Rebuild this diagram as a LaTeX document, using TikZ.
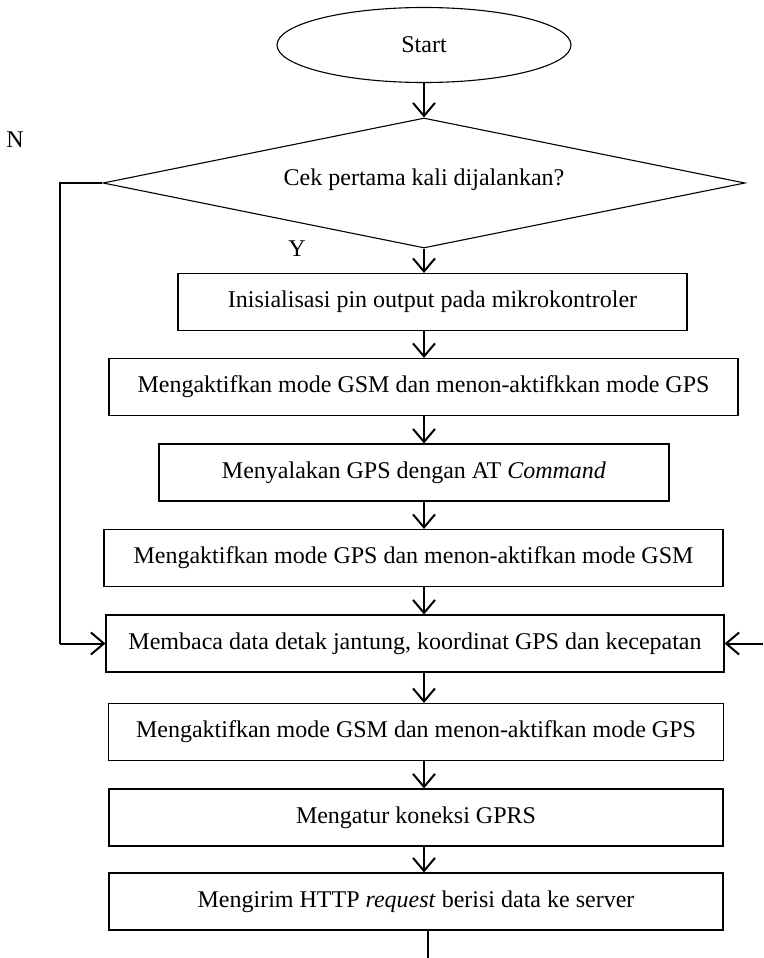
\documentclass[tikz,border=0pt]{standalone}
\usepackage{fontspec}
\setmainfont{Liberation Serif}
\usetikzlibrary{shapes.geometric,arrows.meta}
\begin{document}
\begin{tikzpicture}[x=1pt,y=-1pt,
  every node/.style={font=\fontsize{24}{28}\selectfont, inner sep=0pt},
  stepbox/.style={draw, line width=1.1pt, rectangle, minimum height=57pt},
  arr/.style={line width=2pt, -{Straight Barb[length=13pt,width=22pt,line width=2pt]}},
  link/.style={line width=1.4pt}]
\useasboundingbox (0,0) rectangle (763,958);

% terminal and decision
\node[draw, line width=1.1pt, ellipse, minimum width=294pt, minimum height=75pt] (st) at (424,45) {Start};
\node[draw, line width=1.1pt, diamond, minimum width=642pt, minimum height=130pt] (dec) at (424,183) {};
\node (dectxt) at (424,180) {Cek pertama kali dijalankan?};
\node (lblN) at (15,140) {N};
\node (lblY) at (297,249) {Y};

% process steps
\node[stepbox, minimum width=509pt] (b1) at (432.5,302) {Inisialisasi pin output pada mikrokontroler};
\node[stepbox, minimum width=629pt] (b2) at (423.5,387) {Mengaktifkan mode GSM dan menon-aktifkkan mode GPS};
\node[stepbox, minimum width=510pt] (b3) at (414,472.5) {Menyalakan GPS dengan AT \textit{Command}};
\node[stepbox, minimum width=619pt] (b4) at (413.5,558) {Mengaktifkan mode GPS dan menon-aktifkan mode GSM};
\node[stepbox, minimum width=618pt] (b5) at (415,643.5) {Membaca data detak jantung, koordinat GPS dan kecepatan};
\node[stepbox, minimum width=615pt] (b6) at (416,732) {Mengaktifkan mode GSM dan menon-aktifkan mode GPS};
\node[stepbox, minimum width=614pt] (b7) at (416,817.5) {Mengatur koneksi GPRS};
\node[stepbox, minimum width=614pt] (b8) at (416,901.5) {Mengirim HTTP \textit{request} berisi data ke server};

% main flow
\coordinate (axis) at (424,0);
\draw[arr] (st.south) -- (dec.north);
\draw[arr] (dec.south) -- (b1.north -| axis);
\draw[arr] (b1.south -| axis) -- (b2.north -| axis);
\draw[arr] (b2.south -| axis) -- (b3.north -| axis);
\draw[arr] (b3.south -| axis) -- (b4.north -| axis);
\draw[arr] (b4.south -| axis) -- (b5.north -| axis);
\draw[arr] (b5.south -| axis) -- (b6.north -| axis);
\draw[arr] (b6.south -| axis) -- (b7.north -| axis);
\draw[arr] (b7.south -| axis) -- (b8.north -| axis);

% "N" branch back to the reading step
\coordinate (loopx) at (60,0);
\draw[link] (dec.west) -- (dec.west -| loopx) -- (b5.west -| loopx);
\draw[arr] (b5.west -| loopx) -- (b5.west);

% loop return from the right
\coordinate (ret) at (763,643.5);
\draw[arr] (ret) -- (b5.east);

% continuation below the last step
\coordinate (cont) at (428,958);
\draw[line width=1.1pt] (b8.south -| cont) -- (cont);
\end{tikzpicture}
\end{document}
